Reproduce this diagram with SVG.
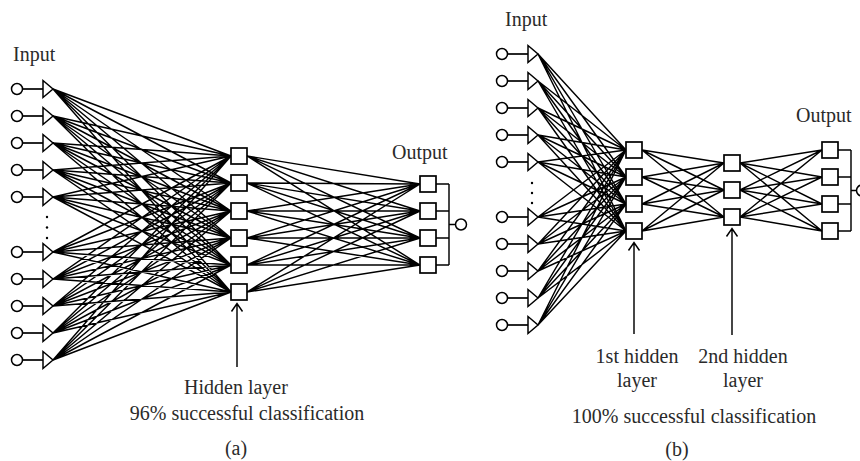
<svg xmlns="http://www.w3.org/2000/svg" xmlns:xlink="http://www.w3.org/1999/xlink" width="860" height="461" viewBox="0 0 860 461">
<style>
.lbl{font-family:"Liberation Serif","Times New Roman",serif;font-size:20px;fill:#2a2a2a}
.mid{text-anchor:middle}
.wire{fill:none;stroke:#000;stroke-width:1.45}
.box{fill:#fff;stroke:#000;stroke-width:1.7}
.dot{fill:#000}
</style>
<defs>
<g id="inp">
<circle cx="0" cy="0" r="5.5" fill="#fff" stroke="#000" stroke-width="1.5"/>
<line x1="5.5" y1="0" x2="26" y2="0" stroke="#000" stroke-width="1.7"/>
<polygon points="26,-8.5 26,8.5 36,0" fill="#fff" stroke="#000" stroke-width="1.5"/>
</g>
<rect id="sq" x="-8" y="-8" width="16" height="16" class="box"/>
</defs>

<g id="connectors">
<!-- (a) input -> hidden -->
<path class="wire" d="M53 89L231 156M53 89L231 183M53 89L231 211M53 89L231 238M53 89L231 265M53 89L231 292
M53 116L231 156M53 116L231 183M53 116L231 211M53 116L231 238M53 116L231 265M53 116L231 292
M53 143L231 156M53 143L231 183M53 143L231 211M53 143L231 238M53 143L231 265M53 143L231 292
M53 170L231 156M53 170L231 183M53 170L231 211M53 170L231 238M53 170L231 265M53 170L231 292
M53 197L231 156M53 197L231 183M53 197L231 211M53 197L231 238M53 197L231 265M53 197L231 292
M53 252L231 156M53 252L231 183M53 252L231 211M53 252L231 238M53 252L231 265M53 252L231 292
M53 279L231 156M53 279L231 183M53 279L231 211M53 279L231 238M53 279L231 265M53 279L231 292
M53 306L231 156M53 306L231 183M53 306L231 211M53 306L231 238M53 306L231 265M53 306L231 292
M53 333L231 156M53 333L231 183M53 333L231 211M53 333L231 238M53 333L231 265M53 333L231 292
M53 360L231 156M53 360L231 183M53 360L231 211M53 360L231 238M53 360L231 265M53 360L231 292"/>
<!-- (a) hidden -> output -->
<path class="wire" d="M247 156L420 184M247 156L420 211M247 156L420 238M247 156L420 265
M247 183L420 184M247 183L420 211M247 183L420 238M247 183L420 265
M247 211L420 184M247 211L420 211M247 211L420 238M247 211L420 265
M247 238L420 184M247 238L420 211M247 238L420 238M247 238L420 265
M247 265L420 184M247 265L420 211M247 265L420 238M247 265L420 265
M247 292L420 184M247 292L420 211M247 292L420 238M247 292L420 265"/>
<!-- (a) output combiner -->
<path class="wire" d="M436 184H449M436 211H449M436 238H449M436 265H449M449 184V265M449 224.5H455.5"/>
<!-- (b) input -> hidden1 -->
<path class="wire" d="M538 54L626 150M538 54L626 177M538 54L626 204M538 54L626 231
M538 81L626 150M538 81L626 177M538 81L626 204M538 81L626 231
M538 108L626 150M538 108L626 177M538 108L626 204M538 108L626 231
M538 135L626 150M538 135L626 177M538 135L626 204M538 135L626 231
M538 162L626 150M538 162L626 177M538 162L626 204M538 162L626 231
M538 217L626 150M538 217L626 177M538 217L626 204M538 217L626 231
M538 244L626 150M538 244L626 177M538 244L626 204M538 244L626 231
M538 271L626 150M538 271L626 177M538 271L626 204M538 271L626 231
M538 298L626 150M538 298L626 177M538 298L626 204M538 298L626 231
M538 325L626 150M538 325L626 177M538 325L626 204M538 325L626 231"/>
<!-- (b) hidden1 -> hidden2 -->
<path class="wire" d="M642 150L724 163M642 150L724 190M642 150L724 217
M642 177L724 163M642 177L724 190M642 177L724 217
M642 204L724 163M642 204L724 190M642 204L724 217
M642 231L724 163M642 231L724 190M642 231L724 217"/>
<!-- (b) hidden2 -> output -->
<path class="wire" d="M740 163L822 150M740 163L822 177M740 163L822 204M740 163L822 231
M740 190L822 150M740 190L822 177M740 190L822 204M740 190L822 231
M740 217L822 150M740 217L822 177M740 217L822 204M740 217L822 231"/>
<!-- (b) output combiner -->
<path class="wire" d="M838 150H851M838 177H851M838 204H851M838 231H851M851 150V231M851 190.5H856.5"/>
<!-- pointer arrows -->
<path class="wire" d="M237 367V303.5M231.5 311.5L237 303.5L242.5 311.5"/>
<path class="wire" d="M634 334V242.5M628.5 250.5L634 242.5L639.5 250.5"/>
<path class="wire" d="M732 335V228.5M726.5 236.5L732 228.5L737.5 236.5"/>
</g>

<!-- (a) network nodes -->
<g id="a-in1"><use href="#inp" x="17" y="89"/></g>
<g id="a-in2"><use href="#inp" x="17" y="116"/></g>
<g id="a-in3"><use href="#inp" x="17" y="143"/></g>
<g id="a-in4"><use href="#inp" x="17" y="170"/></g>
<g id="a-in5"><use href="#inp" x="17" y="197"/></g>
<g id="a-in6"><use href="#inp" x="17" y="252"/></g>
<g id="a-in7"><use href="#inp" x="17" y="279"/></g>
<g id="a-in8"><use href="#inp" x="17" y="306"/></g>
<g id="a-in9"><use href="#inp" x="17" y="333"/></g>
<g id="a-in10"><use href="#inp" x="17" y="360"/></g>
<g id="a-dots"><circle class="dot" cx="47" cy="217" r="1.2"/><circle class="dot" cx="47" cy="227.5" r="1.2"/><circle class="dot" cx="47" cy="238" r="1.2"/></g>
<g id="a-h1"><use href="#sq" x="239" y="156"/></g>
<g id="a-h2"><use href="#sq" x="239" y="183"/></g>
<g id="a-h3"><use href="#sq" x="239" y="211"/></g>
<g id="a-h4"><use href="#sq" x="239" y="238"/></g>
<g id="a-h5"><use href="#sq" x="239" y="265"/></g>
<g id="a-h6"><use href="#sq" x="239" y="292"/></g>
<g id="a-o1"><use href="#sq" x="428" y="184"/></g>
<g id="a-o2"><use href="#sq" x="428" y="211"/></g>
<g id="a-o3"><use href="#sq" x="428" y="238"/></g>
<g id="a-o4"><use href="#sq" x="428" y="265"/></g>
<g id="a-out"><circle cx="461" cy="224.5" r="5.5" fill="#fff" stroke="#000" stroke-width="1.5"/></g>

<!-- (b) network nodes -->
<g id="b-in1"><use href="#inp" x="502" y="54"/></g>
<g id="b-in2"><use href="#inp" x="502" y="81"/></g>
<g id="b-in3"><use href="#inp" x="502" y="108"/></g>
<g id="b-in4"><use href="#inp" x="502" y="135"/></g>
<g id="b-in5"><use href="#inp" x="502" y="162"/></g>
<g id="b-in6"><use href="#inp" x="502" y="217"/></g>
<g id="b-in7"><use href="#inp" x="502" y="244"/></g>
<g id="b-in8"><use href="#inp" x="502" y="271"/></g>
<g id="b-in9"><use href="#inp" x="502" y="298"/></g>
<g id="b-in10"><use href="#inp" x="502" y="325"/></g>
<g id="b-dots"><circle class="dot" cx="532" cy="183" r="1.2"/><circle class="dot" cx="532" cy="193" r="1.2"/><circle class="dot" cx="532" cy="203" r="1.2"/></g>
<g id="b-h1-1"><use href="#sq" x="634" y="150"/></g>
<g id="b-h1-2"><use href="#sq" x="634" y="177"/></g>
<g id="b-h1-3"><use href="#sq" x="634" y="204"/></g>
<g id="b-h1-4"><use href="#sq" x="634" y="231"/></g>
<g id="b-h2-1"><use href="#sq" x="732" y="163"/></g>
<g id="b-h2-2"><use href="#sq" x="732" y="190"/></g>
<g id="b-h2-3"><use href="#sq" x="732" y="217"/></g>
<g id="b-o1"><use href="#sq" x="830" y="150"/></g>
<g id="b-o2"><use href="#sq" x="830" y="177"/></g>
<g id="b-o3"><use href="#sq" x="830" y="204"/></g>
<g id="b-o4"><use href="#sq" x="830" y="231"/></g>
<g id="b-out"><circle cx="862" cy="190.5" r="5.5" fill="#fff" stroke="#000" stroke-width="1.5"/></g>

<!-- labels -->
<g id="labels">
<text class="lbl" x="13" y="61">Input</text>
<text class="lbl" x="392" y="159">Output</text>
<text class="lbl mid" x="236" y="394">Hidden layer</text>
<text class="lbl mid" x="247" y="420">96% successful classification</text>
<text class="lbl mid" x="236" y="455">(a)</text>
<text class="lbl" x="505" y="26">Input</text>
<text class="lbl" x="796" y="122">Output</text>
<text class="lbl mid" x="637" y="363">1st hidden</text>
<text class="lbl mid" x="637" y="387">layer</text>
<text class="lbl mid" x="743" y="363">2nd hidden</text>
<text class="lbl mid" x="743" y="387">layer</text>
<text class="lbl mid" x="694" y="423">100% successful classification</text>
<text class="lbl mid" x="677" y="456">(b)</text>
</g>
</svg>
